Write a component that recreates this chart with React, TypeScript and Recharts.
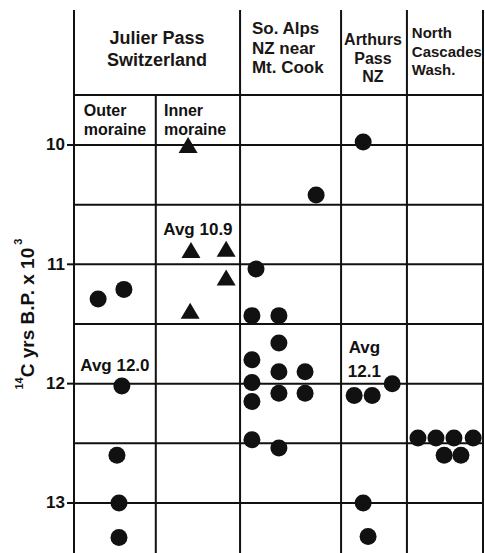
import React from 'react';
import { ScatterChart, Scatter, XAxis, YAxis, ReferenceLine } from 'recharts';

// Table layout in "percent of table width" (x) and 14C kyr B.P. (y)
const columnEdges = [0, 40.6, 65.3, 81.4, 100];
const subColumnEdge = 20.0;
const gridValues = [10, 10.5, 11, 11.5, 12, 12.5, 13];
const yTicks = [10, 11, 12, 13];
const headerBottom = 9.581;
const yDomain: [number, number] = [8.869, 13.419];

// Julier Pass, outer moraine (circles)
const outerMoraine = [
  { x: 5.9, y: 11.29 },
  { x: 12.2, y: 11.21 },
  { x: 11.7, y: 12.02 },
  { x: 10.5, y: 12.6 },
  { x: 11.0, y: 13.0 },
  { x: 11.0, y: 13.29 },
];
// Julier Pass, inner moraine (triangles)
const innerMoraine = [
  { x: 27.9, y: 10.0 },
  { x: 28.6, y: 10.88 },
  { x: 37.2, y: 10.87 },
  { x: 37.2, y: 11.11 },
  { x: 28.4, y: 11.39 },
];
// So. Alps NZ near Mt. Cook
const soAlps = [
  { x: 59.2, y: 10.42 },
  { x: 44.5, y: 11.04 },
  { x: 43.5, y: 11.43 },
  { x: 50.1, y: 11.43 },
  { x: 50.1, y: 11.66 },
  { x: 43.5, y: 11.8 },
  { x: 50.1, y: 11.9 },
  { x: 56.5, y: 11.9 },
  { x: 43.5, y: 11.99 },
  { x: 50.1, y: 12.08 },
  { x: 56.5, y: 12.08 },
  { x: 43.5, y: 12.15 },
  { x: 43.5, y: 12.47 },
  { x: 50.1, y: 12.54 },
];
// Arthurs Pass NZ
const arthursPass = [
  { x: 70.7, y: 9.975 },
  { x: 68.5, y: 12.1 },
  { x: 72.9, y: 12.1 },
  { x: 77.8, y: 12.0 },
  { x: 70.7, y: 13.0 },
  { x: 71.9, y: 13.28 },
];
// North Cascades Wash.
const northCascades = [
  { x: 84.1, y: 12.455 },
  { x: 88.5, y: 12.455 },
  { x: 92.9, y: 12.455 },
  { x: 97.6, y: 12.455 },
  { x: 90.5, y: 12.6 },
  { x: 94.6, y: 12.6 },
];

// Column headers (multi-line)
const headerLabels = [
  { x: 20.3, y: 9.103, lines: ['Julier Pass', 'Switzerland'], anchor: 'middle', size: 18, gap: 22 },
  { x: 43.5, y: 9.02, lines: ['So. Alps', 'NZ near', 'Mt. Cook'], anchor: 'start', size: 17, gap: 19.6 },
  { x: 73.1, y: 9.112, lines: ['Arthurs', 'Pass', 'NZ'], anchor: 'middle', size: 16, gap: 18.6 },
  { x: 82.6, y: 9.053, lines: ['North', 'Cascades', 'Wash.'], anchor: 'start', size: 15, gap: 18.6 },
];
// Sub-headers and average notes
const noteLabels = [
  { x: 2.4, y: 9.707, lines: ['Outer', 'moraine'], anchor: 'start', size: 16, gap: 18.5 },
  { x: 22.0, y: 9.707, lines: ['Inner', 'moraine'], anchor: 'start', size: 16, gap: 18.5 },
  { x: 30.3, y: 10.704, lines: ['Avg 10.9'], anchor: 'middle', size: 17, gap: 0 },
  { x: 10.0, y: 11.844, lines: ['Avg 12.0'], anchor: 'middle', size: 17, gap: 0 },
  { x: 71.0, y: 11.693, lines: ['Avg', '12.1'], anchor: 'middle', size: 17, gap: 24 },
];

const INK = '#111';
const SANS = '"Liberation Sans", Arial, sans-serif';

const Dot = (p: any) => <circle cx={p.cx} cy={p.cy} r={8.5} fill={INK} />;
const Tri = (p: any) => (
  <polygon
    points={`${p.cx - 9.5},${p.cy + 8} ${p.cx + 9.5},${p.cy + 8} ${p.cx},${p.cy - 8}`}
    fill={INK}
  />
);
const makeText = (color: string) => (p: any) => (
  <text
    x={p.cx}
    y={p.cy}
    textAnchor={p.payload.anchor}
    dominantBaseline="central"
    fontFamily={SANS}
    fontWeight="bold"
    fontSize={p.payload.size}
    fill={color}
  >
    {p.payload.lines.map((line: string, i: number) => (
      <tspan key={i} x={p.cx} y={p.cy + i * p.payload.gap}>
        {line}
      </tspan>
    ))}
  </text>
);
const HeaderText = makeText('#1a1715');
const NoteText = makeText(INK);

const Tick = (p: any) => (
  <text
    x={p.x}
    y={p.y}
    textAnchor="end"
    dominantBaseline="central"
    fontFamily={SANS}
    fontWeight="bold"
    fontSize={17}
    fill={INK}
  >
    {p.payload.value}
  </text>
);

const YLabel = (p: any) => {
  const vb = p.viewBox || { x: 0, y: 10, width: 74, height: 543 };
  const cx = vb.x + 27;
  const cy = vb.y + vb.height * 0.56;
  return (
    <text
      x={cx}
      y={cy}
      transform={`rotate(-90 ${cx} ${cy})`}
      textAnchor="middle"
      dominantBaseline="central"
      fontFamily={SANS}
      fontWeight="bold"
      fontSize={19}
      fill={INK}
    >
      <tspan fontSize={11} dy={-8}>14</tspan>
      <tspan dy={8}>C yrs B.P. x 10</tspan>
      <tspan fontSize={11} dy={-9}> 3</tspan>
    </text>
  );
};

export default function App() {
  return (
    <div style={{ position: 'absolute', left: 0, top: 0, width: 485, height: 553, background: '#fff' }}>
      <ScatterChart width={485} height={553} margin={{ top: 10, right: 2, bottom: 0, left: 0 }}>
        <XAxis type="number" dataKey="x" domain={[0, 100]} hide allowDataOverflow />
        <YAxis
          type="number"
          dataKey="y"
          domain={yDomain}
          reversed
          allowDataOverflow
          ticks={yTicks}
          interval={0}
          width={74}
          tickSize={7}
          tickMargin={2}
          tick={Tick}
          axisLine={{ stroke: INK, strokeWidth: 2 }}
          tickLine={{ stroke: INK, strokeWidth: 2 }}
          label={{ content: YLabel }}
        />
        {gridValues.map((v) => (
          <ReferenceLine key={'h' + v} y={v} stroke={INK} strokeWidth={2} />
        ))}
        <ReferenceLine y={headerBottom} stroke={INK} strokeWidth={2} />
        {columnEdges.map((v) => (
          <ReferenceLine key={'v' + v} x={v} stroke={INK} strokeWidth={2} />
        ))}
        <ReferenceLine
          segment={[
            { x: subColumnEdge, y: headerBottom },
            { x: subColumnEdge, y: yDomain[1] },
          ]}
          stroke={INK}
          strokeWidth={2}
        />
        <Scatter data={outerMoraine} shape={Dot} isAnimationActive={false} />
        <Scatter data={innerMoraine} shape={Tri} isAnimationActive={false} />
        <Scatter data={soAlps} shape={Dot} isAnimationActive={false} />
        <Scatter data={arthursPass} shape={Dot} isAnimationActive={false} />
        <Scatter data={northCascades} shape={Dot} isAnimationActive={false} />
        <Scatter data={headerLabels} shape={HeaderText} isAnimationActive={false} />
        <Scatter data={noteLabels} shape={NoteText} isAnimationActive={false} />
      </ScatterChart>
    </div>
  );
}
